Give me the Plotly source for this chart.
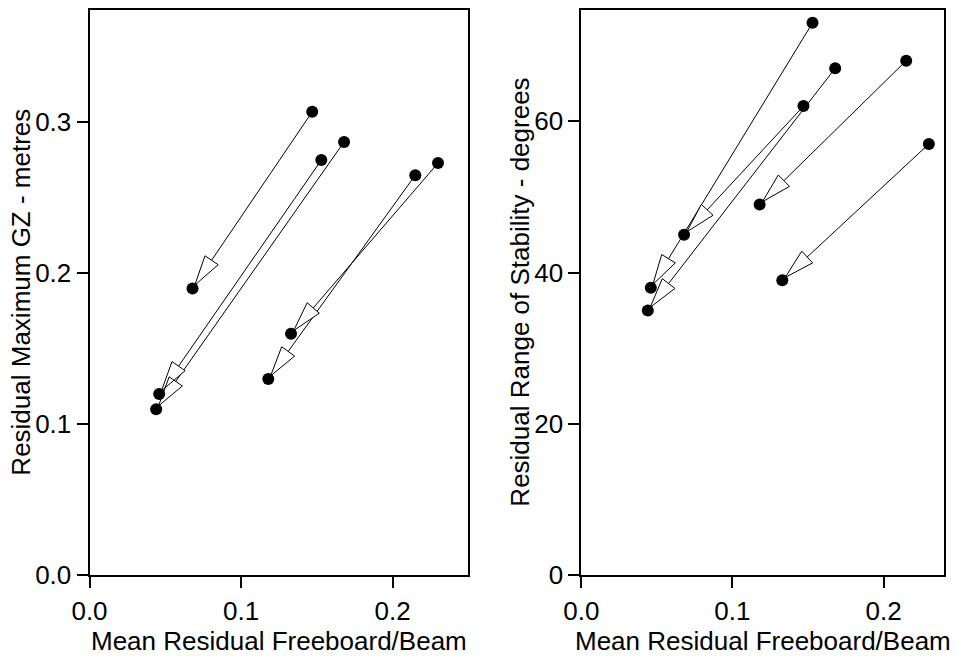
import numpy as np
import plotly.graph_objects as go

# Mean residual freeboard/beam before and after (five vessels)
fb_start = [0.147, 0.153, 0.168, 0.215, 0.230]
fb_end = [0.068, 0.046, 0.044, 0.118, 0.133]

# Residual maximum GZ (metres)
gz_start = [0.307, 0.275, 0.287, 0.265, 0.273]
gz_end = [0.190, 0.120, 0.110, 0.130, 0.160]

# Residual range of stability (degrees)
rs_start = [62, 73, 67, 68, 57]
rs_end = [45, 38, 35, 49, 39]

x_ticks = [0.0, 0.1, 0.2]
gz_ticks = [0.0, 0.1, 0.2, 0.3]
rs_ticks = [0, 20, 40, 60]

W, H = 958, 656
FONT = "Liberation Sans, Arial, sans-serif"
FS = 26

dom_x1 = [89.5 / W, 468.3 / W]
dom_x2 = [581.3 / W, 944.0 / W]
dom_y = [(H - 575.3) / H, (H - 10.0) / H]

rng_x1, rng_y1 = [0, 0.25], [0, 0.3744]
rng_x2, rng_y2 = [0, 0.24], [0, 74.7]

HEAD_LEN = 30.0   # px
HEAD_HALF = 8.0   # px
TIP_OFF = 4.0     # px


def arrow_geometry(xs, ys, xe, ye, rx, ry, dx, dy):
    """Return line and open-triangle head coordinates in data units."""
    lx = (dx[1] - dx[0]) * W
    ly = (dy[1] - dy[0]) * H
    sx = lx / (rx[1] - rx[0])
    sy = ly / (ry[1] - ry[0])
    line_x, line_y, tri_x, tri_y = [], [], [], []
    for x0, y0, x1, y1 in zip(xs, ys, xe, ye):
        p0 = np.array([x0 * sx, y0 * sy])
        p1 = np.array([x1 * sx, y1 * sy])
        u = (p0 - p1) / np.linalg.norm(p0 - p1)
        n = np.array([-u[1], u[0]])
        tip = p1 + u * TIP_OFF
        base = tip + u * HEAD_LEN
        c1 = base + n * HEAD_HALF
        c2 = base - n * HEAD_HALF
        line_x += [x0, base[0] / sx, None]
        line_y += [y0, base[1] / sy, None]
        for p in (tip, c1, c2, tip):
            tri_x.append(p[0] / sx)
            tri_y.append(p[1] / sy)
        tri_x.append(None)
        tri_y.append(None)
    return line_x, line_y, tri_x, tri_y


fig = go.Figure()

panels = [
    ("x", "y", gz_start, gz_end, rng_x1, rng_y1, dom_x1),
    ("x2", "y2", rs_start, rs_end, rng_x2, rng_y2, dom_x2),
]
for xa, ya, ys, ye, rx, ry, dx in panels:
    lx, ly, tx, ty = arrow_geometry(fb_start, ys, fb_end, ye, rx, ry, dx, dom_y)
    fig.add_trace(go.Scatter(x=lx, y=ly, xaxis=xa, yaxis=ya, mode="lines",
                             line=dict(color="black", width=1), hoverinfo="skip"))
    fig.add_trace(go.Scatter(x=tx, y=ty, xaxis=xa, yaxis=ya, mode="lines",
                             fill="toself", fillcolor="white",
                             line=dict(color="black", width=1), hoverinfo="skip"))
    fig.add_trace(go.Scatter(x=fb_start + fb_end, y=ys + ye, xaxis=xa, yaxis=ya,
                             mode="markers",
                             marker=dict(color="black", size=12, line=dict(width=0))))

axis_common = dict(showline=True, mirror=True, linecolor="black", linewidth=2,
                   ticks="outside", ticklen=11, tickwidth=2, tickcolor="black",
                   showgrid=False, zeroline=False, automargin=False,
                   tickfont=dict(family=FONT, size=FS, color="black"))

fig.update_layout(
    template="none",
    width=W, height=H,
    margin=dict(l=0, r=0, t=0, b=0, pad=0),
    paper_bgcolor="white", plot_bgcolor="white",
    showlegend=False,
    font=dict(family=FONT, size=FS, color="black"),
    xaxis=dict(domain=dom_x1, range=rng_x1, tickvals=x_ticks, tickformat=".1f",
               anchor="y", **axis_common),
    yaxis=dict(domain=dom_y, range=rng_y1, tickvals=gz_ticks, tickformat=".1f",
               anchor="x", **axis_common),
    xaxis2=dict(domain=dom_x2, range=rng_x2, tickvals=x_ticks, tickformat=".1f",
                anchor="y2", **axis_common),
    yaxis2=dict(domain=dom_y, range=rng_y2, tickvals=rs_ticks, tickformat="d",
                anchor="x2", **axis_common),
)

titles = [
    ("Mean Residual Freeboard/Beam", (dom_x1[0] + dom_x1[1]) / 2, (H - 641) / H, 0),
    ("Mean Residual Freeboard/Beam", (dom_x2[0] + dom_x2[1]) / 2, (H - 641) / H, 0),
    ("Residual Maximum GZ - metres", 21 / W, (dom_y[0] + dom_y[1]) / 2, -90),
    ("Residual Range of Stability - degrees", 520 / W, (dom_y[0] + dom_y[1]) / 2, -90),
]
for text, x, y, ang in titles:
    fig.add_annotation(text=text, x=x, y=y, xref="paper", yref="paper",
                       xanchor="center", yanchor="middle", textangle=ang,
                       showarrow=False, font=dict(family=FONT, size=FS, color="black"))

fig.write_html("out.html")
